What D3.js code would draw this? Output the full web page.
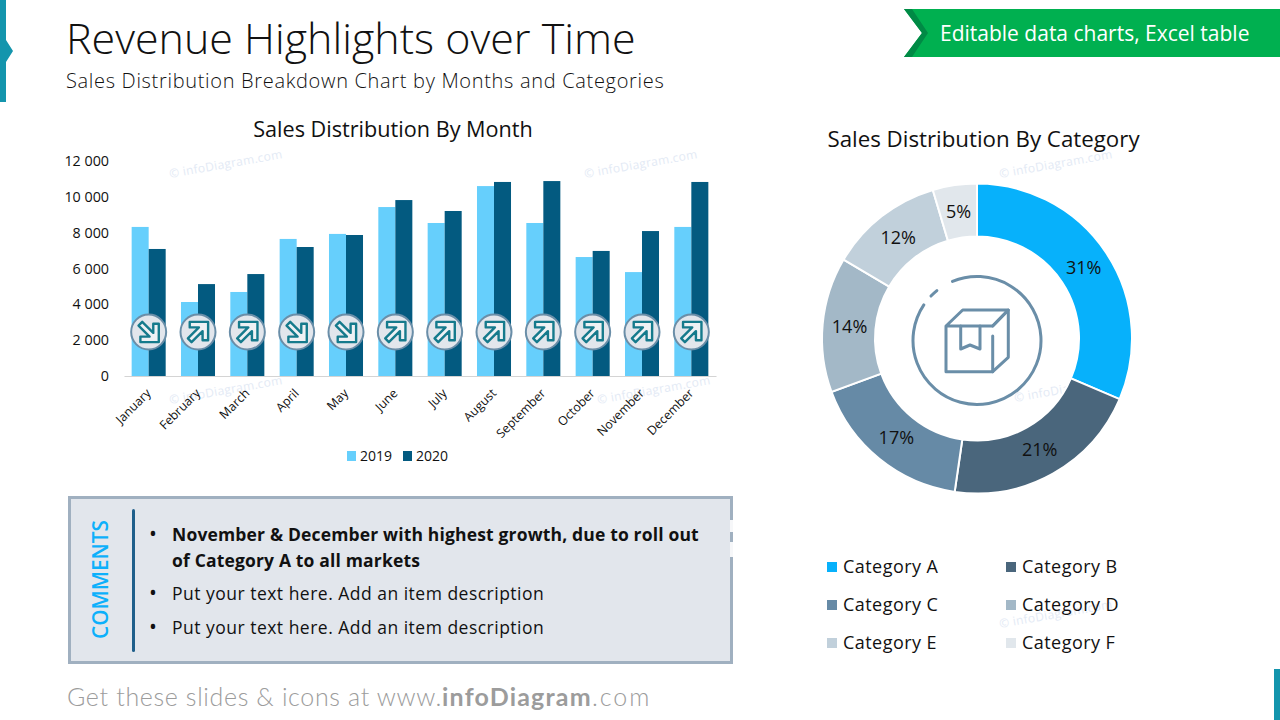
<!DOCTYPE html>
<html>
<head>
<meta charset="utf-8">
<script src="https://cdn.jsdelivr.net/npm/d3@7"></script>
<style>
  body { margin: 0; background: #fff; }
  text { font-family: "Open Sans", "Noto Sans", sans-serif; fill: #111; }
</style>
</head>
<body>
<svg id="slide" width="1280" height="720"></svg>
<script>
// chart values
const months = ["January", "February", "March", "April", "May", "June", "July", "August", "September", "October", "November", "December"];
const years = ["2019", "2020"];
const sales2019 = [8320, 4130, 4690, 7650, 7930, 9430, 8540, 10600, 8540, 6640, 5800, 8320];
const sales2020 = [7090, 5130, 5690, 7200, 7870, 9820, 9210, 10830, 10880, 6980, 8090, 10830];
const yTicks = [0, 2000, 4000, 6000, 8000, 10000, 12000];
const categories = ["Category A", "Category B", "Category C", "Category D", "Category E", "Category F"];
const shares = [31.4, 20.9, 17.1, 14.1, 11.9, 4.6];
const comments = [
    ["November & December with highest growth, due to roll out", "of Category A to all markets"],
    ["Put your text here. Add an item description"],
    ["Put your text here. Add an item description"]
];

const yearColors = ["#66CFFC", "#035A80"];
const catColors = ["#07B1FB", "#4A667C", "#668AA6", "#A3B8C7", "#C1D0DB", "#E1E7EC"];
const slate = "#6A8EA8";

const svg = d3.select("#slide");

function label(parent, x, y, str, size, opts) {
    opts = opts || {};
    return parent.append("text")
        .attr("x", x)
        .attr("y", y)
        .attr("font-size", size)
        .attr("font-weight", opts.weight || 400)
        .attr("text-anchor", opts.anchor || "start")
        .style("letter-spacing", opts.spacing || null)
        .style("fill", opts.fill || null)
        .text(str);
}

// Slide furniture
svg.append("path").attr("d", "M0,0H6V40L13,51L6,62V102H0Z").attr("fill", "#1495AD");
svg.append("rect").attr("x", 1274).attr("y", 669).attr("width", 6).attr("height", 51).attr("fill", "#1495AD");

svg.append("path").attr("d", "M904,9H1280V57H904L922,33Z").attr("fill", "#00B050");
svg.append("path").attr("d", "M904,9H912L928,33L912,57H904L922,33Z").attr("fill", "#008A45");
label(svg, 940, 41, "Editable data charts, Excel table", 21, { fill: "#fff" });

label(svg, 66, 54, "Revenue Highlights over Time", 43, { weight: 300 });
label(svg, 66, 88, "Sales Distribution Breakdown Chart by Months and Categories", 20, { weight: 300, spacing: "0.68px" });

// Watermarks sit under the charts
const marks = [[170, 178], [585, 178], [1000, 178], [170, 404], [598, 404], [1015, 402], [1000, 628]];
marks.forEach(m => {
    svg.append("text")
        .attr("transform", `translate(${m[0]},${m[1]}) rotate(-10)`)
        .attr("font-size", 12)
        .style("fill", "#E3EAF5")
        .style("letter-spacing", "0.3px")
        .text("© infoDiagram.com");
});

// Bar chart
const plot = { left: 124, right: 716, top: 161, bottom: 376 };

const x0 = d3.scaleBand()
    .domain(months)
    .range([plot.left, plot.right]);

const x1 = d3.scaleBand()
    .domain(years)
    .range([0, x0.bandwidth()])
    .paddingOuter(0.45)
    .paddingInner(0);

const y = d3.scaleLinear()
    .domain([0, 12000])
    .range([plot.bottom, plot.top]);

label(svg, 393, 137, "Sales Distribution By Month", 21.65, { anchor: "middle" });

[sales2019, sales2020].forEach((series, s) => {
    svg.append("g").selectAll("rect")
        .data(series)
        .enter().append("rect")
        .attr("x", (d, i) => x0(months[i]) + x1(years[s]))
        .attr("y", d => y(d))
        .attr("width", x1.bandwidth())
        .attr("height", d => plot.bottom - y(d))
        .attr("fill", yearColors[s]);
});

const yAxis = svg.append("g")
    .attr("transform", `translate(${plot.left},0)`)
    .call(d3.axisLeft(y).tickValues(yTicks).tickSize(0).tickPadding(15)
        .tickFormat(d => d3.format(",")(d).replace(",", " ")));
yAxis.select(".domain").remove();
yAxis.selectAll("text").attr("font-size", 14.3);

const xAxis = svg.append("g")
    .attr("transform", `translate(0,${plot.bottom})`)
    .call(d3.axisBottom(x0).tickSize(0).tickPadding(0));
xAxis.select(".domain").attr("stroke", "#D4D4D4").attr("stroke-width", 1.2);
xAxis.selectAll("text")
    .attr("font-size", 12.3)
    .attr("text-anchor", "end")
    .attr("dy", 0)
    .attr("transform", "translate(3,18) rotate(-45)");

// Trend badges, direction follows the two series
const upArrow = "M-9,-11H11V9H5V-1L-7,11L-11,7L1,-5H-9Z";
const badges = svg.append("g").selectAll("g")
    .data(months)
    .enter().append("g")
    .attr("transform", d => `translate(${x0(d) + x0.bandwidth() / 2},332)`);
badges.append("circle")
    .attr("r", 17.5)
    .attr("fill", "#E2E6EC")
    .attr("stroke", slate)
    .attr("stroke-width", 2);
badges.append("path")
    .attr("d", upArrow)
    .attr("transform", (d, i) => sales2020[i] >= sales2019[i] ? "scale(0.92)" : "scale(0.92,-0.92)")
    .attr("fill", "#EEF1F4")
    .attr("stroke", "#157A8C")
    .attr("stroke-width", 2.6)
    .attr("stroke-linejoin", "round");

// Year legend
const yearLegendX = [347, 403];
years.forEach((yr, i) => {
    svg.append("rect")
        .attr("x", yearLegendX[i]).attr("y", 451)
        .attr("width", 9).attr("height", 10)
        .attr("fill", yearColors[i]);
    label(svg, yearLegendX[i] + 13, 461, yr, 14);
});

// Comments box
svg.append("rect")
    .attr("x", 69.5).attr("y", 497.5)
    .attr("width", 662).attr("height", 165)
    .attr("fill", "#E2E6EC")
    .attr("stroke", "#A0B0C0")
    .attr("stroke-width", 3);
[[520, 12], [542, 15]].forEach(g => {
    svg.append("rect").attr("x", 730).attr("y", g[0]).attr("width", 3).attr("height", g[1]).attr("fill", "#F6F7F9");
});
svg.append("line")
    .attr("x1", 133.5).attr("x2", 133.5)
    .attr("y1", 510.5).attr("y2", 650.5)
    .attr("stroke", "#1F5F8B")
    .attr("stroke-width", 3)
    .attr("stroke-linecap", "round");
svg.append("text")
    .attr("transform", "translate(108,579.5) rotate(-90)")
    .attr("text-anchor", "middle")
    .attr("font-size", 20.8)
    .attr("font-weight", 600)
    .style("fill", "#0DB0FB")
    .text("COMMENTS");

const commentY = [[541, 567], [600], [634]];
comments.forEach((lines, i) => {
    label(svg, 149, commentY[i][0], "•", 21);
    lines.forEach((line, j) => {
        label(svg, 172, commentY[i][j], line, 17.5, {
            weight: i === 0 ? 700 : 400,
            spacing: i === 0 ? "0.16px" : "0.49px"
        });
    });
});

// Footer
const footer = svg.append("text")
    .attr("x", 67).attr("y", 706)
    .attr("font-size", 25)
    .style("font-family", "Lato, sans-serif")
    .style("fill", "#9C9C9C");
footer.append("tspan").attr("font-weight", 300).style("letter-spacing", "0.65px").text("Get these slides & icons at www.");
footer.append("tspan").attr("font-weight", 700).style("letter-spacing", "1.2px").text("infoDiagram");
footer.append("tspan").attr("font-weight", 300).style("letter-spacing", "2px").text(".com");

// Donut
const cx = 977, cy = 338.5;
label(svg, 983.5, 147, "Sales Distribution By Category", 22.3, { anchor: "middle" });

const pie = d3.pie().sort(null).value(d => d);
const arc = d3.arc().innerRadius(102).outerRadius(155);
const labelArc = d3.arc().innerRadius(128).outerRadius(128);
const donut = svg.append("g").attr("transform", `translate(${cx},${cy})`);

donut.selectAll("path")
    .data(pie(shares))
    .enter().append("path")
    .attr("d", arc)
    .attr("fill", (d, i) => catColors[i])
    .attr("stroke", "#fff")
    .attr("stroke-width", 2);

donut.selectAll("text")
    .data(pie(shares))
    .enter().append("text")
    .attr("transform", d => `translate(${labelArc.centroid(d)})`)
    .attr("text-anchor", "middle")
    .attr("dy", "0.35em")
    .attr("font-size", 18)
    .text(d => Math.round(d.data) + "%");

// Box icon in the middle of the donut
const icon = svg.append("g")
    .attr("fill", "none")
    .attr("stroke", slate)
    .attr("stroke-width", 3)
    .attr("stroke-linecap", "round")
    .attr("stroke-linejoin", "round");
const deg = Math.PI / 180;
const ring = d3.arc().innerRadius(64).outerRadius(64);
icon.append("path")
    .attr("transform", "translate(977,340.5)")
    .attr("d", ring({ startAngle: -22.5 * deg, endAngle: 303.8 * deg }));
icon.append("path")
    .attr("transform", "translate(977,340.5)")
    .attr("d", ring({ startAngle: -46 * deg, endAngle: -38.8 * deg }));
icon.append("path").attr("d", "M946,326H992.7L1008.3,310H962.7L946,326V371.7H992.7V336");
icon.append("path").attr("d", "M992.7,326L1008.3,310V357.3L992.7,371.7");
icon.append("path").attr("d", "M960.7,326V349L970,345L980,349V326");

// Category legend
const legendX = [827, 1006];
const legendY = [567, 605, 643];
categories.forEach((c, i) => {
    const lx = legendX[i % 2], ly = legendY[Math.floor(i / 2)];
    svg.append("rect")
        .attr("x", lx).attr("y", ly - 5)
        .attr("width", 10).attr("height", 10)
        .attr("fill", catColors[i]);
    label(svg, lx + 16, ly + 6, c, 18, { spacing: "0.45px" });
});
</script>
</body>
</html>
